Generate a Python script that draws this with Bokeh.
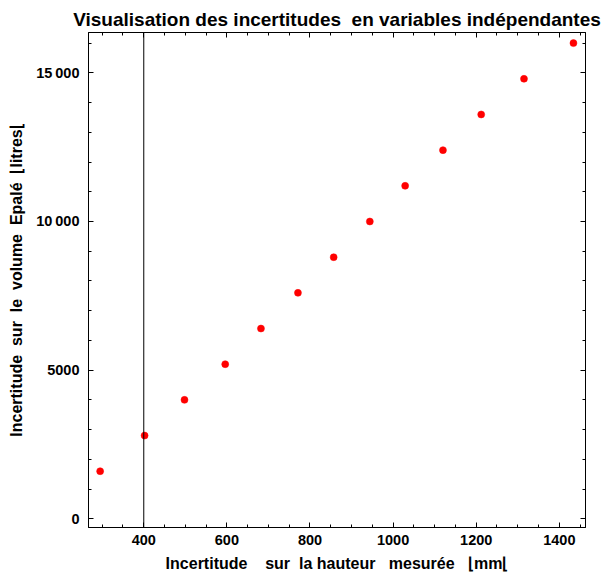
from bokeh.plotting import figure
from bokeh.models import (Range1d, Span, LinearAxis, SingleIntervalTicker, ColumnDataSource,
                          CustomJSTickFormatter)
from bokeh.embed import file_html
from bokeh.resources import INLINE

# data
hauteur = [295, 402, 498, 596, 682, 771, 857, 944, 1029, 1120, 1212, 1315, 1434]
volume = [1600, 2800, 4000, 5200, 6400, 7600, 8800, 10000, 11200, 12400, 13600, 14800, 16000]
x_ticks_interval = 200
y_ticks_interval = 5000
y_label_overrides = {15000: "15\u2009000", 10000: "10\u2009000", 5000: "5000", 0: "0"}

NB = "\u00a0"
title_text = "Visualisation des\u00a0incertitudes\u00a0\u00a0en variables indépendantes"
x_label = "Incertitude" + NB * 4 + "sur" + NB * 2 + "la hauteur" + NB * 3 + "mesurée" + NB * 3 + "⌊mm⌊"
y_label = NB * 2 + "".join(w + NB * 2 for w in ["Incertitude", "sur", "le", "volume", "Epalé"]) + "⌊litres⌊"
y_label = y_label.strip(NB)

FONT = "Liberation Sans"

p = figure(width=607, height=580, output_backend="svg", toolbar_location=None,
           x_range=Range1d(267, 1463), y_range=Range1d(-293, 16357),
           x_axis_type=None, y_axis_type=None,
           min_border_left=88, min_border_right=22, min_border_top=32, min_border_bottom=53)
p.background_fill_color = "white"
p.border_fill_color = "white"
p.outline_line_color = "black"
p.xgrid.visible = False
p.ygrid.visible = False

p.title.text = title_text
p.title.text_font = FONT
p.title.text_font_style = "bold"
p.title.text_font_size = "19px"
p.title.text_color = "black"
p.title.align = "center"
p.title.offset = 0
p.title.standoff = 6


def style(ax, labels=True):
    ax.axis_line_color = "black"
    ax.major_tick_in = 5
    ax.major_tick_out = 0
    ax.minor_tick_in = 3
    ax.minor_tick_out = 0
    ax.major_tick_line_color = "black"
    ax.minor_tick_line_color = "black"
    ax.major_label_text_font = FONT
    ax.major_label_text_font_style = "bold"
    ax.major_label_text_font_size = "14.5px"
    ax.major_label_text_color = "black"
    ax.axis_label_text_font = FONT
    ax.axis_label_text_font_style = "bold"
    ax.axis_label_text_font_size = "16px"
    ax.axis_label_text_color = "black"
    if not labels:
        ax.formatter = CustomJSTickFormatter(code="return '';")
        ax.major_label_standoff = 0


xt = SingleIntervalTicker(interval=x_ticks_interval, num_minor_ticks=4)
yt = SingleIntervalTicker(interval=y_ticks_interval, num_minor_ticks=5)

xb = LinearAxis(ticker=xt, axis_label=x_label)
style(xb)
xb.major_label_standoff = 7
xb.axis_label_standoff = 7
p.add_layout(xb, "below")

yl = LinearAxis(ticker=yt, axis_label=y_label, major_label_overrides=y_label_overrides)
style(yl)
yl.major_label_standoff = 9
yl.axis_label_standoff = 8
p.add_layout(yl, "left")

xa = LinearAxis(ticker=SingleIntervalTicker(interval=x_ticks_interval, num_minor_ticks=4))
style(xa, labels=False)
p.add_layout(xa, "above")

yr = LinearAxis(ticker=SingleIntervalTicker(interval=y_ticks_interval, num_minor_ticks=5))
style(yr, labels=False)
p.add_layout(yr, "right")

p.add_layout(Span(location=400, dimension="height", line_color="black", line_width=1))

src = ColumnDataSource(dict(x=hauteur, y=volume))
p.scatter("x", "y", source=src, size=7, fill_color="#ff0000", line_color="#ff0000", line_width=0.5)

open("out.html", "w").write(file_html(p, INLINE))
